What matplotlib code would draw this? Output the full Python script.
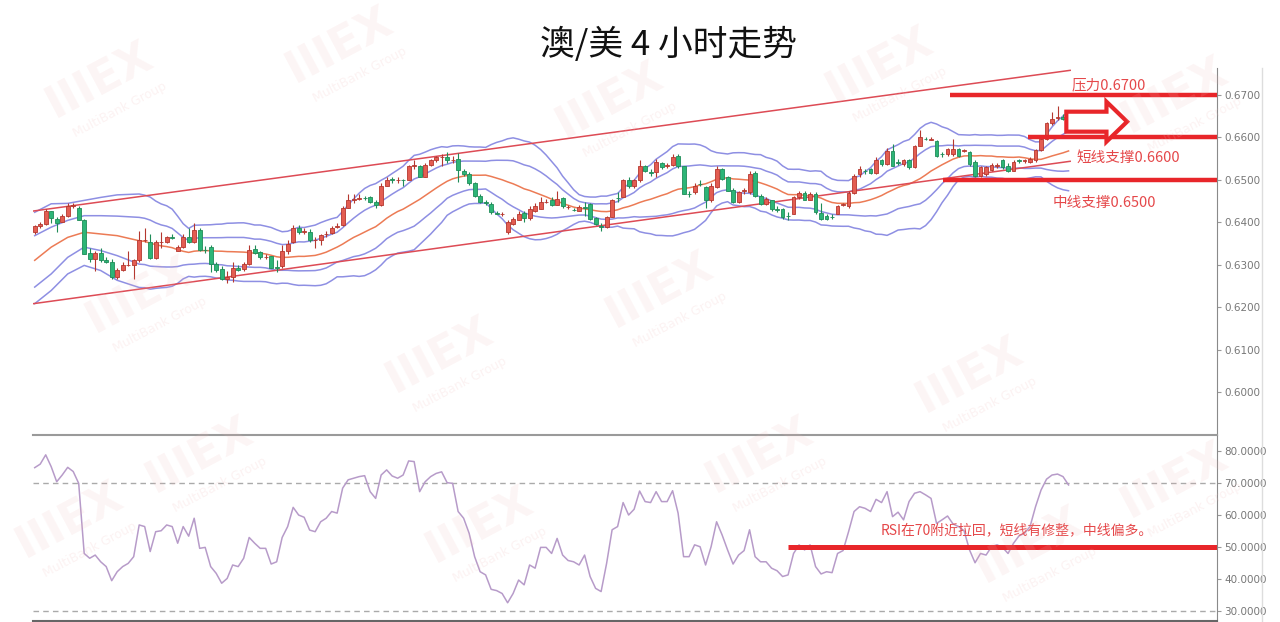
import numpy as np
import pandas as pd
import matplotlib
matplotlib.use("Agg")
import matplotlib.pyplot as plt
from matplotlib.patches import FancyArrow
from matplotlib.lines import Line2D

plt.rcParams['font.family'] = ['Noto Sans CJK SC', 'DejaVu Sans']

# AUD/USD 4h candles (189 bars)
opens = [
    0.6377, 0.6391, 0.6397, 0.6426, 0.6409, 0.6401, 0.6416, 0.6438, 0.6434, 0.6407,
    0.6328, 0.6315, 0.6328, 0.6312, 0.6308, 0.6271, 0.6289, 0.6299, 0.6299, 0.6311,
    0.6358, 0.6353, 0.6317, 0.6354, 0.6355, 0.6365, 0.6334, 0.6342, 0.6367, 0.6354,
    0.6383, 0.6336, 0.6342, 0.6303, 0.6291, 0.6268, 0.6271, 0.6294, 0.6291, 0.6303,
    0.6338, 0.6330, 0.6318, 0.6320, 0.6295, 0.6297, 0.6332, 0.6353, 0.6388, 0.6377,
    0.6377, 0.6358, 0.6358, 0.6372, 0.6375, 0.6389, 0.6393, 0.6434, 0.6454, 0.6456,
    0.6458, 0.6459, 0.6448, 0.6440, 0.6487, 0.6503, 0.6499, 0.6500, 0.6500, 0.6534,
    0.6534, 0.6508, 0.6536, 0.6546, 0.6553, 0.6555, 0.6547, 0.6550, 0.6522, 0.6514,
    0.6492, 0.6463, 0.6448, 0.6444, 0.6422, 0.6420, 0.6377, 0.6397, 0.6406, 0.6422,
    0.6411, 0.6426, 0.6432, 0.6448, 0.6454, 0.6442, 0.6458, 0.6436, 0.6430, 0.6428,
    0.6436, 0.6444, 0.6411, 0.6391, 0.6390, 0.6412, 0.6458, 0.6461, 0.6499, 0.6485,
    0.6499, 0.6532, 0.6518, 0.6518, 0.6539, 0.6534, 0.6535, 0.6557, 0.6532, 0.6467,
    0.6471, 0.6491, 0.6483, 0.6452, 0.6483, 0.6526, 0.6506, 0.6477, 0.6448, 0.6475,
    0.6471, 0.6516, 0.6463, 0.6444, 0.6452, 0.6431, 0.6432, 0.6416, 0.6420, 0.6459,
    0.6469, 0.6453, 0.6467, 0.6422, 0.6416, 0.6414, 0.6420, 0.6442, 0.6438, 0.6469,
    0.6514, 0.6521, 0.6526, 0.6516, 0.6547, 0.6538, 0.6568, 0.6542, 0.6538, 0.6546,
    0.6530, 0.6581, 0.6597, 0.6595, 0.6591, 0.6561, 0.6561, 0.6560, 0.6573, 0.6569,
    0.6565, 0.6542, 0.6510, 0.6513, 0.6524, 0.6534, 0.6546, 0.6534, 0.6522, 0.6546,
    0.6545, 0.6542, 0.6546, 0.6571, 0.6597, 0.6633, 0.6647, 0.6649, 0.6644,
]
closes = [
    0.6391, 0.6397, 0.6427, 0.6411, 0.6399, 0.6416, 0.6438, 0.6440, 0.6406, 0.6326,
    0.6315, 0.6328, 0.6312, 0.6307, 0.6271, 0.6289, 0.6299, 0.6300, 0.6311, 0.6358,
    0.6359, 0.6317, 0.6354, 0.6355, 0.6365, 0.6364, 0.6342, 0.6367, 0.6354, 0.6383,
    0.6336, 0.6335, 0.6303, 0.6289, 0.6268, 0.6271, 0.6294, 0.6289, 0.6303, 0.6336,
    0.6328, 0.6318, 0.6319, 0.6294, 0.6294, 0.6332, 0.6350, 0.6388, 0.6377, 0.6381,
    0.6358, 0.6359, 0.6371, 0.6373, 0.6388, 0.6391, 0.6434, 0.6452, 0.6456, 0.6458,
    0.6457, 0.6448, 0.6440, 0.6487, 0.6500, 0.6499, 0.6500, 0.6499, 0.6532, 0.6535,
    0.6508, 0.6536, 0.6546, 0.6553, 0.6554, 0.6546, 0.6548, 0.6524, 0.6514, 0.6492,
    0.6463, 0.6448, 0.6446, 0.6424, 0.6421, 0.6421, 0.6401, 0.6409, 0.6420, 0.6411,
    0.6432, 0.6438, 0.6449, 0.6449, 0.6442, 0.6456, 0.6438, 0.6437, 0.6429, 0.6436,
    0.6435, 0.6409, 0.6397, 0.6390, 0.6412, 0.6452, 0.6457, 0.6499, 0.6485, 0.6500,
    0.6532, 0.6522, 0.6517, 0.6542, 0.6530, 0.6535, 0.6555, 0.6532, 0.6467, 0.6466,
    0.6487, 0.6490, 0.6452, 0.6487, 0.6526, 0.6503, 0.6475, 0.6448, 0.6471, 0.6476,
    0.6514, 0.6463, 0.6444, 0.6456, 0.6432, 0.6430, 0.6414, 0.6415, 0.6459, 0.6469,
    0.6453, 0.6467, 0.6424, 0.6409, 0.6409, 0.6413, 0.6438, 0.6443, 0.6469, 0.6510,
    0.6526, 0.6520, 0.6516, 0.6547, 0.6538, 0.6568, 0.6534, 0.6541, 0.6547, 0.6530,
    0.6581, 0.6600, 0.6596, 0.6596, 0.6557, 0.6560, 0.6573, 0.6573, 0.6557, 0.6570,
    0.6538, 0.6510, 0.6530, 0.6530, 0.6536, 0.6535, 0.6530, 0.6522, 0.6542, 0.6545,
    0.6546, 0.6550, 0.6571, 0.6597, 0.6633, 0.6644, 0.6648, 0.6644, 0.6645,
]
highs = [
    0.6395, 0.6402, 0.6431, 0.6428, 0.6414, 0.6421, 0.6445, 0.6447, 0.6438, 0.6409,
    0.6341, 0.6334, 0.6339, 0.6318, 0.6315, 0.6292, 0.6306, 0.6334, 0.6315, 0.6381,
    0.6386, 0.6374, 0.6358, 0.6377, 0.6369, 0.6372, 0.6346, 0.6372, 0.6388, 0.6398,
    0.6386, 0.6344, 0.6346, 0.6306, 0.6297, 0.6287, 0.6308, 0.6301, 0.6306, 0.6346,
    0.6348, 0.6334, 0.6325, 0.6322, 0.6311, 0.6346, 0.6358, 0.6393, 0.6393, 0.6386,
    0.6384, 0.6367, 0.6374, 0.6381, 0.6391, 0.6398, 0.6438, 0.6468, 0.6466, 0.6468,
    0.6463, 0.6463, 0.6452, 0.6492, 0.6508, 0.6508, 0.6506, 0.6503, 0.6536, 0.6546,
    0.6536, 0.6539, 0.6550, 0.6557, 0.6562, 0.6565, 0.6557, 0.6563, 0.6525, 0.6518,
    0.6496, 0.6468, 0.6454, 0.6449, 0.6426, 0.6424, 0.6405, 0.6414, 0.6426, 0.6426,
    0.6438, 0.6445, 0.6459, 0.6456, 0.6461, 0.6475, 0.6461, 0.6442, 0.6435, 0.6440,
    0.6448, 0.6447, 0.6414, 0.6398, 0.6416, 0.6456, 0.6471, 0.6503, 0.6508, 0.6503,
    0.6546, 0.6536, 0.6527, 0.6550, 0.6543, 0.6541, 0.6560, 0.6562, 0.6534, 0.6475,
    0.6492, 0.6499, 0.6487, 0.6492, 0.6532, 0.6529, 0.6510, 0.6480, 0.6475, 0.6482,
    0.6520, 0.6520, 0.6466, 0.6459, 0.6454, 0.6438, 0.6435, 0.6424, 0.6463, 0.6473,
    0.6473, 0.6471, 0.6471, 0.6445, 0.6419, 0.6419, 0.6440, 0.6447, 0.6473, 0.6513,
    0.6532, 0.6527, 0.6529, 0.6553, 0.6550, 0.6576, 0.6585, 0.6550, 0.6550, 0.6550,
    0.6583, 0.6618, 0.6602, 0.6600, 0.6595, 0.6567, 0.6576, 0.6596, 0.6576, 0.6574,
    0.6569, 0.6546, 0.6534, 0.6534, 0.6539, 0.6539, 0.6550, 0.6539, 0.6546, 0.6550,
    0.6550, 0.6553, 0.6574, 0.6600, 0.6637, 0.6659, 0.6675, 0.6656, 0.6651,
]
lows = [
    0.6374, 0.6388, 0.6395, 0.6398, 0.6377, 0.6400, 0.6414, 0.6433, 0.6405, 0.6325,
    0.6306, 0.6287, 0.6308, 0.6304, 0.6266, 0.6266, 0.6285, 0.6297, 0.6268, 0.6308,
    0.6353, 0.6315, 0.6313, 0.6341, 0.6351, 0.6360, 0.6332, 0.6341, 0.6351, 0.6351,
    0.6334, 0.6329, 0.6283, 0.6283, 0.6264, 0.6257, 0.6259, 0.6285, 0.6287, 0.6301,
    0.6325, 0.6315, 0.6313, 0.6292, 0.6283, 0.6294, 0.6327, 0.6351, 0.6372, 0.6374,
    0.6353, 0.6339, 0.6348, 0.6365, 0.6374, 0.6386, 0.6391, 0.6433, 0.6447, 0.6452,
    0.6452, 0.6445, 0.6435, 0.6438, 0.6485, 0.6494, 0.6492, 0.6487, 0.6499, 0.6527,
    0.6506, 0.6506, 0.6534, 0.6543, 0.6534, 0.6541, 0.6541, 0.6495, 0.6510, 0.6489,
    0.6461, 0.6445, 0.6442, 0.6421, 0.6419, 0.6416, 0.6372, 0.6395, 0.6405, 0.6400,
    0.6407, 0.6424, 0.6431, 0.6445, 0.6438, 0.6440, 0.6435, 0.6431, 0.6426, 0.6426,
    0.6416, 0.6407, 0.6393, 0.6381, 0.6388, 0.6412, 0.6448, 0.6459, 0.6480, 0.6482,
    0.6496, 0.6518, 0.6510, 0.6506, 0.6527, 0.6529, 0.6532, 0.6529, 0.6466, 0.6461,
    0.6468, 0.6485, 0.6433, 0.6449, 0.6480, 0.6501, 0.6473, 0.6445, 0.6445, 0.6468,
    0.6468, 0.6461, 0.6440, 0.6440, 0.6428, 0.6424, 0.6409, 0.6405, 0.6419, 0.6456,
    0.6452, 0.6452, 0.6421, 0.6407, 0.6405, 0.6409, 0.6419, 0.6438, 0.6435, 0.6466,
    0.6508, 0.6515, 0.6513, 0.6515, 0.6534, 0.6536, 0.6532, 0.6536, 0.6534, 0.6527,
    0.6529, 0.6579, 0.6593, 0.6593, 0.6555, 0.6555, 0.6557, 0.6557, 0.6555, 0.6565,
    0.6534, 0.6508, 0.6506, 0.6510, 0.6522, 0.6529, 0.6527, 0.6518, 0.6520, 0.6541,
    0.6541, 0.6539, 0.6543, 0.6569, 0.6593, 0.6630, 0.6642, 0.6640, 0.6639,
]

# RSI line, one reading per bar
rsi = [
    74.9, 76.0, 78.9, 75.2, 70.5, 72.6, 75.0, 73.7, 70.0, 48.1,
    46.6, 47.6, 45.5, 44.0, 39.6, 42.4, 44.0, 45.0, 47.1, 57.0,
    56.5, 48.7, 54.9, 55.2, 57.0, 56.5, 51.3, 56.5, 53.5, 59.1,
    49.7, 50.0, 44.0, 41.9, 38.8, 40.3, 44.5, 44.0, 46.6, 53.1,
    51.3, 49.7, 49.7, 44.8, 45.5, 53.1, 56.5, 62.5, 60.1, 59.4,
    55.4, 54.9, 58.0, 59.1, 61.2, 60.7, 68.5, 71.1, 71.6, 72.1,
    72.4, 67.4, 65.3, 72.6, 74.2, 72.3, 71.6, 72.6, 77.0, 76.8,
    67.4, 70.5, 72.1, 73.1, 73.6, 70.2, 70.0, 61.2, 59.1, 54.4,
    47.1, 42.4, 41.4, 36.9, 36.5, 35.6, 32.7, 35.6, 39.8, 38.3,
    44.5, 43.5, 50.0, 50.0, 48.1, 52.8, 47.6, 45.9, 45.5, 44.5,
    47.6, 40.9, 37.2, 36.2, 45.0, 55.5, 56.5, 64.0, 60.1, 61.9,
    67.6, 64.3, 64.0, 67.4, 64.3, 64.3, 67.7, 60.7, 47.1, 47.1,
    50.8, 50.2, 44.5, 50.2, 58.0, 53.9, 49.2, 44.8, 47.6, 49.0,
    55.5, 47.1, 45.5, 45.5, 43.5, 42.7, 40.9, 41.4, 48.1, 50.8,
    49.2, 50.8, 44.0, 41.7, 42.4, 42.1, 48.1, 49.0, 54.9, 61.2,
    62.7, 62.2, 61.2, 65.0, 64.0, 67.4, 59.6, 61.0, 58.6, 64.3,
    66.9, 67.4, 66.4, 65.3, 57.5, 58.6, 59.8, 57.3, 56.5, 55.2,
    49.2, 45.2, 48.1, 47.6, 50.2, 50.8, 50.0, 48.1, 51.3, 53.6,
    54.4, 56.5, 62.7, 67.9, 71.3, 72.6, 72.9, 72.1, 69.5,
]

# Bollinger values for the first bars (their 20-bar window starts off-chart)
warm_idx = [1, 4, 7, 10, 13, 16]
bb_up2_warm = [0.6424, 0.6444, 0.6445, 0.6452, 0.6459, 0.6465]
bb_up1_warm = [0.6369, 0.6389, 0.6405, 0.6416, 0.6416, 0.6415]
bb_mid_warm = [0.6311, 0.6342, 0.6365, 0.6377, 0.6373, 0.6369]
bb_dn1_warm = [0.6248, 0.6279, 0.6318, 0.6342, 0.6334, 0.6322]
bb_dn2_warm = [0.6209, 0.6240, 0.6279, 0.6299, 0.6287, 0.6264]

# trend channel end points (bar index, price)
chan_x = [0.75, 189.3]
chan_upper = [0.6427, 0.6758]
chan_lower = [0.6209, 0.6544]

# key levels and notes
levels = [0.6700, 0.6600, 0.6500]
level_start = [167.4, 181.7, 166.2]
level_labels = ['压力0.6700', '短线支撑0.6600', '中线支撑0.6500']
label_pos = [(189.5, 0.67235), (190.5, 0.65525), (186.1, 0.64452)]
rsi_note = 'RSI在70附近拉回，短线有修整，中线偏多。'

price_ticks = [0.60, 0.61, 0.62, 0.63, 0.64, 0.65, 0.66, 0.67]
rsi_ticks = [30, 40, 50, 60, 70, 80]

RED = '#e8262a'
UP_FACE, UP_EDGE = '#e35d52', '#b5372f'
DN_FACE, DN_EDGE = '#2db577', '#1f8c58'
BAND = '#8e8fe3'

n = len(closes)
assert len(opens) == n and len(highs) == n and len(lows) == n and len(rsi) == n
idx = np.arange(1, n + 1)
o = np.array(opens)
c = np.array(closes)
h = np.maximum(np.array(highs), np.maximum(o, c))
l = np.minimum(np.array(lows), np.minimum(o, c))

cs = pd.Series(c)
mid = cs.rolling(20).mean().values
sd = cs.rolling(20).std(ddof=0).values
bx = np.concatenate([warm_idx, idx[19:]])


def band(warm, vals):
    return np.concatenate([warm, vals[19:]])


fig = plt.figure(figsize=(12.8, 6.22), dpi=100)
W, H = 1280, 622
ax = fig.add_axes([33 / W, (H - 435) / H, (1217 - 33) / W, (435 - 68) / H])
ax2 = fig.add_axes([33 / W, (H - 620.7) / H, (1217 - 33) / W, (620.7 - 435) / H])

# candles
up = c >= o
ax.vlines(idx[up], l[up], h[up], color=UP_EDGE, lw=0.8, zorder=3)
ax.vlines(idx[~up], l[~up], h[~up], color=DN_EDGE, lw=0.8, zorder=3)
body_lo = np.minimum(o, c)
body_h = np.abs(c - o)
ax.bar(idx[up], body_h[up], bottom=body_lo[up], width=0.7,
       color=UP_FACE, edgecolor=UP_EDGE, lw=0.6, zorder=4)
ax.bar(idx[~up], body_h[~up], bottom=body_lo[~up], width=0.7,
       color=DN_FACE, edgecolor=DN_EDGE, lw=0.6, zorder=4)

# bollinger bands (1 and 2 sigma) and middle line
ax.plot(bx, band(bb_up2_warm, mid + 2 * sd), color=BAND, lw=1.1, zorder=2)
ax.plot(bx, band(bb_up1_warm, mid + sd), color=BAND, lw=1.1, zorder=2)
ax.plot(bx, band(bb_dn1_warm, mid - sd), color=BAND, lw=1.1, zorder=2)
ax.plot(bx, band(bb_dn2_warm, mid - 2 * sd), color=BAND, lw=1.1, zorder=2)
ax.plot(bx, band(bb_mid_warm, mid), color='#ec7b55', lw=1.1, zorder=2)

# channel
ax.plot(chan_x, chan_upper, color='#dd4b55', lw=1.1, zorder=2)
ax.plot(chan_x, chan_lower, color='#dd4b55', lw=1.1, zorder=2)

xmax = 216.0
for lv, x0 in zip(levels, level_start):
    ax.hlines(lv, x0, xmax, color=RED, lw=3.2, zorder=5)
for txt, (tx, ty) in zip(level_labels, label_pos):
    ax.text(tx, ty, txt, color='#e5484a', fontsize=10.5, va='center', ha='left', zorder=6)

arrow = FancyArrow(188.6, 0.66372, 11.05, 0, width=0.0047, head_width=0.0094,
                   head_length=3.75, length_includes_head=True,
                   fc='white', ec=RED, lw=3, zorder=6)
ax.add_patch(arrow)

ax.set_xlim(0.69, xmax)
ax.set_ylim(0.5900, 0.67635)
ax.set_yticks(price_ticks)
ax.set_yticklabels([f'{t:.4f}' for t in price_ticks])

# RSI panel
ax2.plot(idx, rsi, color='#b79bc9', lw=1.1, zorder=3)
for lv in (70, 30):
    ax2.axhline(lv, color='#aaaaaa', lw=1, ls=(0, (4, 3)), zorder=1)
ax2.hlines(50, 138.0, xmax, color=RED, lw=3.6, zorder=4)
ax2.text(154.9, 55.4, rsi_note, color='#e5484a', fontsize=10, va='center', ha='left', zorder=5)
ax2.set_xlim(0.69, xmax)
ax2.set_ylim(27.1, 85.1)
ax2.set_yticks(rsi_ticks)
ax2.set_yticklabels([f'{t:.4f}' for t in rsi_ticks])

for a in (ax, ax2):
    a.yaxis.tick_right()
    a.set_xticks([])
    a.tick_params(axis='y', direction='out', length=3, width=0.8, colors='#999999',
                  labelcolor='#777777', labelsize=7.5, pad=2)
    for lab in a.get_yticklabels():
        lab.set_fontfamily('DejaVu Sans')
    a.spines['left'].set_visible(False)
    a.spines['right'].set_color('#8a8a8a')
    a.set_facecolor('none')

ax.spines['top'].set_visible(False)
ax.spines['bottom'].set_visible(False)
ax2.spines['top'].set_color('#9a9a9a')
ax2.spines['top'].set_linewidth(1.5)
ax2.spines['bottom'].set_color('#666666')
ax2.spines['bottom'].set_linewidth(1.5)

# faint right frame line
fig.add_artist(Line2D([1262 / W, 1262 / W], [0, (H - 68) / H], color='#dddddd', lw=1))

fig.text(668 / W, 1 - 45 / H, '澳/美 4 小时走势', fontsize=25, ha='center', va='center', color='#111111')

# faint watermark logos
marks = [(100, 80), (340, 45), (610, 100), (880, 65), (1175, 95), (140, 295), (660, 290),
         (440, 355), (970, 375), (200, 455), (480, 525), (760, 455), (1175, 480), (70, 520), (1030, 545)]
for mx, my in marks:
    fig.text(mx / W, 1 - my / H, 'IIIEX', fontsize=32, fontweight='bold', rotation=28,
             color='#f0b8b8', alpha=0.14, ha='center', va='center', family='DejaVu Sans', zorder=0)
    fig.text((mx + 20) / W, 1 - (my + 30) / H, 'MultiBank Group', fontsize=9, rotation=28,
             color='#f0b8b8', alpha=0.18, ha='center', va='center', family='DejaVu Sans', zorder=0)

fig.savefig('out.png', dpi=100, facecolor='white')
